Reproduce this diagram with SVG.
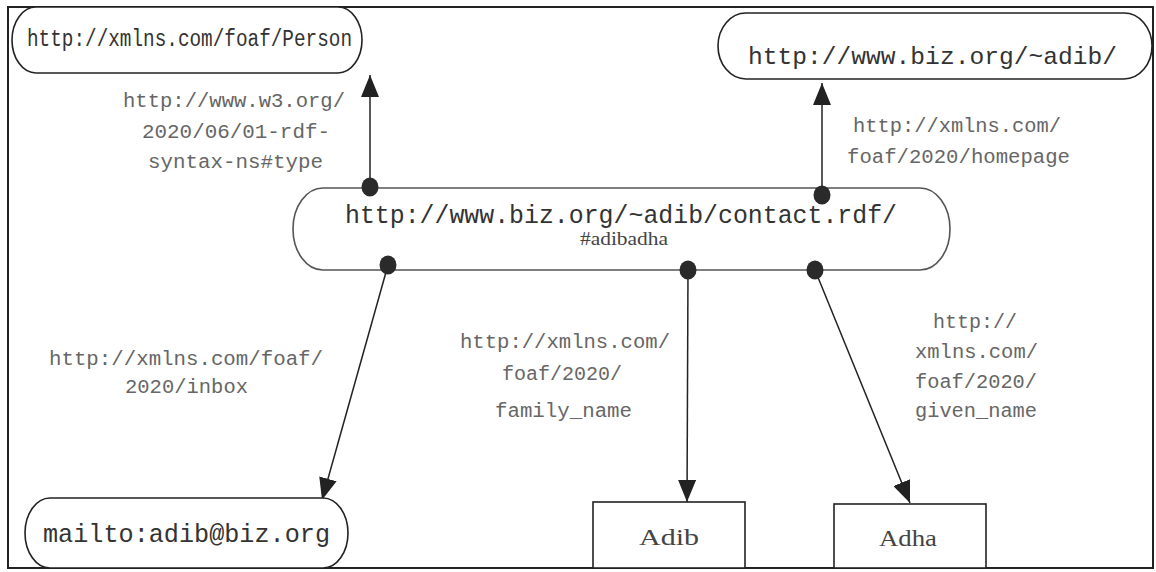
<svg xmlns="http://www.w3.org/2000/svg" width="1156" height="572" viewBox="0 0 1156 572">
<style>
.frame{fill:none;stroke:#222;stroke-width:2}
.node{fill:#fff;stroke:#222;stroke-width:1.6}
.mid{fill:#fff;stroke:#555;stroke-width:1.6}
.mono{font-family:"Liberation Mono","Courier New",monospace;fill:#333}
.serif{font-family:"Liberation Serif","Times New Roman",serif;fill:#444}
.lbl{font-family:"Liberation Mono","Courier New",monospace;font-size:20px;fill:#666}
.edge{stroke:#222;stroke-width:1.5;fill:none;marker-end:url(#arr)}
.dot{fill:#2a2a2a}
</style>
<defs>
<marker id="arr" viewBox="0 0 22 18" refX="22" refY="9" markerWidth="22" markerHeight="18" orient="auto" markerUnits="userSpaceOnUse">
<path d="M0,0 L22,9 L0,18 z" fill="#222"/>
</marker>
</defs>
<rect width="1156" height="572" fill="#fff"/>
<rect class="frame" x="8" y="7" width="1145" height="561"/>

<g id="connectors">
<path class="edge" d="M370,187 L370,75"/>
<path class="edge" d="M822,195 L822,83"/>
<path class="edge" d="M388,265 L322,500"/>
<path class="edge" d="M688,270 L687,502"/>
<path class="edge" d="M815,270 L910,503"/>
</g>

<g id="node-person">
<rect class="node" x="12" y="7" width="350" height="66" rx="24" ry="33"/>
<text class="mono" x="27" y="46" font-size="23" textLength="325" lengthAdjust="spacingAndGlyphs">http://xmlns.com/foaf/Person</text>
</g>

<g id="node-homepage">
<rect class="node" x="718" y="13" width="434" height="66" rx="28" ry="33"/>
<text class="mono" x="748" y="64" font-size="24" textLength="369" lengthAdjust="spacingAndGlyphs">http://www.biz.org/~adib/</text>
</g>

<g id="node-subject">
<rect class="mid" x="293" y="188" width="657" height="82" rx="30" ry="41"/>
<text class="mono" x="345" y="223" font-size="25" textLength="552" lengthAdjust="spacingAndGlyphs">http://www.biz.org/~adib/contact.rdf/</text>
<text class="serif" x="580" y="245" font-size="18" textLength="88" lengthAdjust="spacingAndGlyphs">#adibadha</text>
</g>

<g id="node-mailto">
<rect class="node" x="25" y="498" width="323" height="70" rx="25" ry="35"/>
<text class="mono" x="43" y="542" font-size="25" textLength="287" lengthAdjust="spacingAndGlyphs">mailto:adib@biz.org</text>
</g>

<g id="node-adib">
<rect class="node" x="593" y="502" width="152" height="66"/>
<text class="serif" x="639" y="545" font-size="23" textLength="60" lengthAdjust="spacingAndGlyphs">Adib</text>
</g>

<g id="node-adha">
<rect class="node" x="834" y="504" width="152" height="64"/>
<text class="serif" x="879" y="546" font-size="23" textLength="58" lengthAdjust="spacingAndGlyphs">Adha</text>
</g>

<g id="dots">
<ellipse class="dot" cx="370" cy="187" rx="8.5" ry="9.5"/>
<ellipse class="dot" cx="822" cy="195" rx="8.5" ry="9.5"/>
<ellipse class="dot" cx="388" cy="265" rx="8.5" ry="9.5"/>
<ellipse class="dot" cx="688" cy="270" rx="8.5" ry="9.5"/>
<ellipse class="dot" cx="815" cy="270" rx="8.5" ry="9.5"/>
</g>

<g id="edge-labels">
<text class="lbl" x="123" y="107" textLength="222" lengthAdjust="spacingAndGlyphs">http://www.w3.org/</text>
<text class="lbl" x="142" y="138" textLength="188" lengthAdjust="spacingAndGlyphs">2020/06/01-rdf-</text>
<text class="lbl" x="148" y="168" textLength="175" lengthAdjust="spacingAndGlyphs">syntax-ns#type</text>

<text class="lbl" x="853" y="132" textLength="208" lengthAdjust="spacingAndGlyphs">http://xmlns.com/</text>
<text class="lbl" x="847" y="163" textLength="223" lengthAdjust="spacingAndGlyphs">foaf/2020/homepage</text>

<text class="lbl" x="49" y="365" textLength="274" lengthAdjust="spacingAndGlyphs">http://xmlns.com/foaf/</text>
<text class="lbl" x="125" y="393" textLength="123" lengthAdjust="spacingAndGlyphs">2020/inbox</text>

<text class="lbl" x="460" y="348" textLength="210" lengthAdjust="spacingAndGlyphs">http://xmlns.com/</text>
<text class="lbl" x="502" y="380" textLength="120" lengthAdjust="spacingAndGlyphs">foaf/2020/</text>
<text class="lbl" x="495" y="417" textLength="137" lengthAdjust="spacingAndGlyphs">family_name</text>

<text class="lbl" x="933" y="328" textLength="84" lengthAdjust="spacingAndGlyphs">http://</text>
<text class="lbl" x="915" y="358" textLength="123" lengthAdjust="spacingAndGlyphs">xmlns.com/</text>
<text class="lbl" x="915" y="388" textLength="122" lengthAdjust="spacingAndGlyphs">foaf/2020/</text>
<text class="lbl" x="915" y="417" textLength="122" lengthAdjust="spacingAndGlyphs">given_name</text>
</g>
</svg>
